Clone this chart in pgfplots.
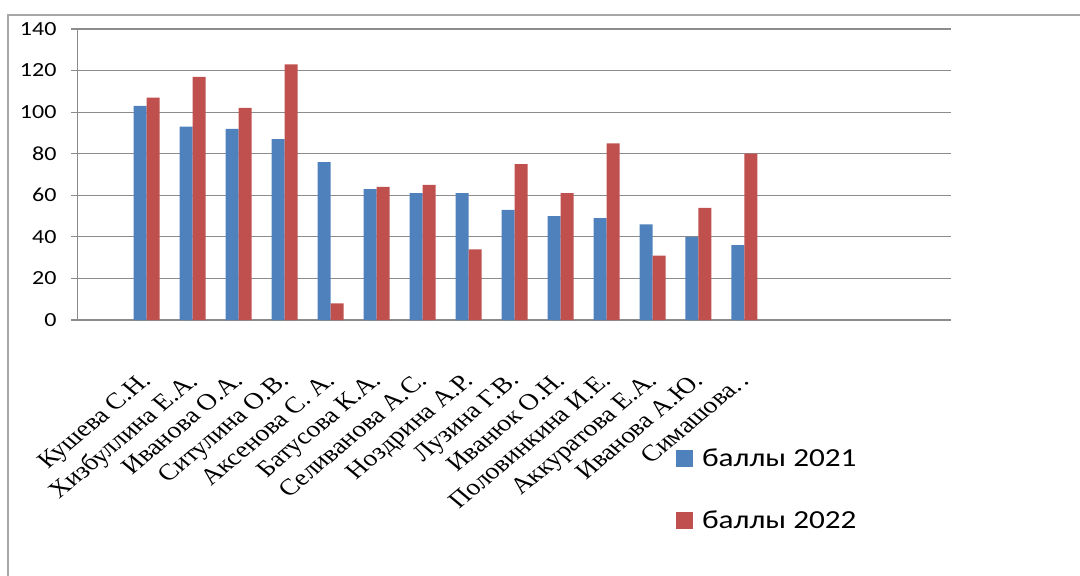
\documentclass[border=0pt]{standalone}
\usepackage{pgfplots}
\pgfplotsset{compat=1.18}
\usepackage{fontspec}
\setmainfont{Liberation Serif}
\newfontfamily\carlito{Carlito}[FakeStretch=1.2]
\newfontfamily\carlitoN{Carlito}
\definecolor{bl}{HTML}{4F81BD}
\definecolor{rd}{HTML}{C0504D}
\definecolor{gridc}{HTML}{8C8C8C}
\definecolor{borderc}{HTML}{A6A6A6}
\pgfplotstableread{
x a b
1 103 107
2 93 117
3 92 102
4 87 123
5 76 8
6 63 64
7 61 65
8 61 34
9 53 75
10 50 61
11 49 85
12 46 31
13 40 54
14 36 80
}\datatable
\begin{document}
\begin{tikzpicture}
\useasboundingbox (0,0) rectangle (1080pt,576pt);
\draw[color=borderc, line width=1.5pt] (8pt,0pt) -- (8pt,561pt) -- (1080pt,561pt);
\begin{axis}[
  at={(77.7pt,256pt)}, anchor=south west,
  scale only axis, width=873.7pt, height=291pt,
  xmin=-0.5, xmax=18.5, ymin=0, ymax=140,
  ybar=0pt, bar width=13pt,
  axis lines*=left,
  axis line style={draw=gridc, line width=1.2pt, -},
  ytick={0,20,...,140},
  ymajorgrids, grid style={draw=gridc, line width=1.2pt},
  tick align=outside,
  major tick length=7pt,
  tick style={draw=gridc, line width=1.2pt},
  /pgf/number format/assume math mode=true,
  yticklabel style={font=\carlitoN\fontsize{20}{24}\selectfont, text=black, xshift=-10pt, xscale=1.2},
  xtick={1,...,14},
  x tick style={draw=none},
  xticklabels={{Кушева С.Н.},{Хизбуллина Е.А.},{Иванова О.А.},{Ситулина О.В.},{Аксенова С. А.},{Батусова К.А.},{Селиванова А.С.},{Ноздрина А.Р.},{Лузина Г.В.},{Иванюк О.Н.},{Половинкина И.Е.},{Аккуратова Е.А.},{Иванова А.Ю.},{Симашова.\kern3pt.}},
  xticklabel style={xshift=-7pt, yshift=-44pt, xscale=1.2, rotate=45, anchor=north east, font=\fontsize{23}{23}\selectfont, inner sep=0pt},
  extra x ticks={-0.5,0.5,...,18.5},
  extra x tick labels={},
  extra x tick style={major tick length=8pt, tick style={draw=gridc, line width=1.2pt}},
  legend style={draw=none, fill=none, at={(axis description cs:0.6846,-0.436)}, anchor=north west,
    font=\carlito\fontsize{26}{30}\selectfont, row sep=39pt, inner sep=0pt},
  legend cell align=left,
  legend image code/.code={\path[#1] (0pt,-8.5pt) rectangle (17pt,8.5pt); \path (24pt,0pt);},
]
\addplot[fill=bl, draw=none] table[x=x, y=a] {\datatable};
\addplot[fill=rd, draw=none] table[x=x, y=b] {\datatable};
\legend{баллы 2021, баллы 2022}
\end{axis}
\end{tikzpicture}
\end{document}
